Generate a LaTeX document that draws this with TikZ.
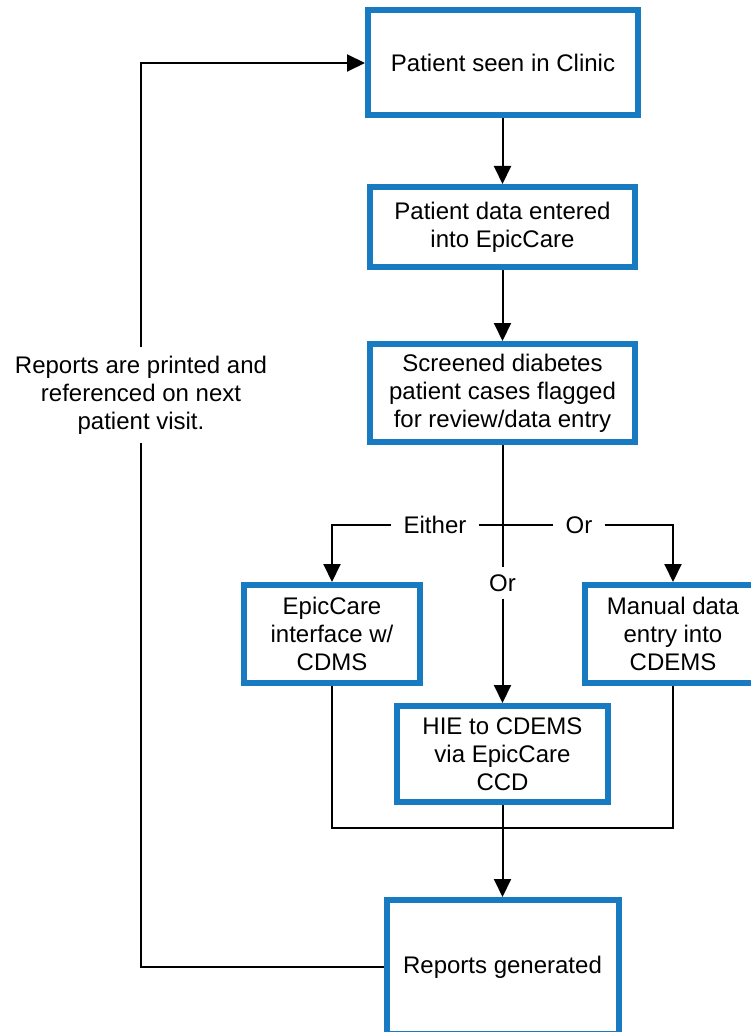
\documentclass[tikz,border=0pt]{standalone}
\usepackage{fontspec}
\setmainfont{Liberation Sans}
\usepackage{xcolor}
\usetikzlibrary{arrows.meta}
\definecolor{boxblue}{RGB}{24,122,192}

\begin{document}
\begin{tikzpicture}[x=1pt,y=-1pt,
    every node/.style={font=\fontsize{24}{28}\selectfont,align=center},
    box/.style={draw=boxblue,line width=6pt,inner sep=0pt},
    lbl/.style={inner xsep=12pt,inner ysep=4pt},
    line/.style={line width=2pt},
    >={Triangle[length=18pt,width=17pt]}]
    \useasboundingbox (0,0) rectangle (751,1032);
    \node[box,minimum width=270,minimum height=105] (clinic) at (503,63) {Patient seen in Clinic};
    \node[box,minimum width=265,minimum height=80] (entry) at (502.5,227) {Patient data entered\\into EpicCare};
    \node[box,minimum width=265,minimum height=98] (screen) at (502.5,393) {Screened diabetes\\patient cases flagged\\for review/data entry};
    \node[box,minimum width=176,minimum height=98] (epic) at (332,634) {EpicCare\\interface w/\\CDMS};
    \node[box,minimum width=176,minimum height=98] (manual) at (673,634) {Manual data\\entry into\\CDEMS};
    \node[box,minimum width=211,minimum height=96] (hie) at (502.5,754) {HIE to CDEMS\\via EpicCare\\CCD};
    \node[box,minimum width=232,minimum height=134] (reports) at (502.5,967) {Reports generated};
    \node[inner ysep=9pt] (note) at (141,395) {Reports are printed and\\referenced on next\\patient visit.};
    \node[lbl] (either) at (435,525) {Either};
    \node[lbl] (orright) at (579,525) {Or};
    \node[lbl,inner ysep=7pt] (ormid) at (502.5,583) {Or};
    \coordinate (merge) at (502.5,828);
    \draw[line,->] (clinic.south -| entry) -- (entry);
    \draw[line,->] (entry) -- (screen);
    \draw[line] (screen.south) -- (ormid.north);
    \draw[line,->] (ormid.south) -- (hie.north);
    \draw[line,->] (either.west) -| (epic.north);
    \draw[line] (either.east) -- (orright.west);
    \draw[line,->] (orright.east) -| (manual.north);
    \draw[line] (epic.south) |- (merge) -| (manual.south);
    \draw[line,->] (hie.south) -- (reports.north);
    \draw[line] (reports.west) -| (note.south);
    \draw[line,->] (note.north) |- (clinic.west);
\end{tikzpicture}
\end{document}
